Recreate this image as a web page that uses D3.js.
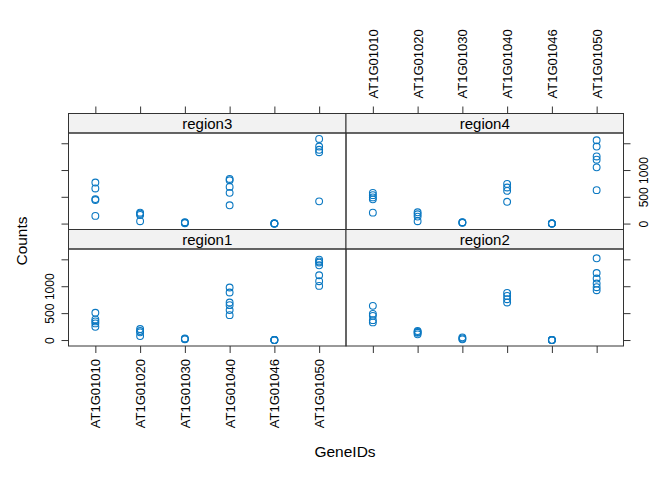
<!DOCTYPE html>
<html><head><meta charset="utf-8">
<script src="https://cdn.jsdelivr.net/npm/d3@7"></script>
<style>body{margin:0;background:#fff}svg{display:block;font-family:"Liberation Sans",Arial,sans-serif}</style>
</head><body>
<svg id="c" width="672" height="480"></svg>
<script>
const genes = ["AT1G01010","AT1G01020","AT1G01030","AT1G01040","AT1G01046","AT1G01050"];
const regionNames = ["region1","region2","region3","region4"];
const yTicks = [0,500,1000,1500];
const yTickLabels = ["0","500","1000",""];
const region1 = [[506,383,346,309,246],[204,167,143,74],[31,20,13],[976,883,698,648,556,463],[0,0,0,0],[1494,1460,1439,1389,1204,1093,1006]];
const region2 = [[635,487,450,370,328],[167,150,135,106],[50,30,13],[876,820,759,698],[0,0,0,0],[1519,1246,1143,1050,982,926]];
const region3 = [[767,656,457,439,143],[204,185,161,44],[26,15,7],[833,809,685,574,341],[0,0,0,0],[1581,1439,1378,1333,415]];
const region4 = [[574,531,489,452,204],[211,174,130,44],[26,20,15],[741,674,611,407],[0,0,0,0],[1556,1439,1254,1193,1050,624]];
const regionValues = {region1, region2, region3, region4};

const svg = d3.select("#c");
const X0 = 68.5, X1 = 346, X2 = 623.5;
const ptsColor = "#0a78c2";
const panels = [
  {name:"region3", x0:X0, x1:X1, st:113.5, pt:133, pb:229.5, row:"top", col:"left"},
  {name:"region4", x0:X1, x1:X2, st:113.5, pt:133, pb:229.5, row:"top", col:"right"},
  {name:"region1", x0:X0, x1:X1, st:229.5, pt:249, pb:346, row:"bottom", col:"left"},
  {name:"region2", x0:X1, x1:X2, st:229.5, pt:249, pb:346, row:"bottom", col:"right"}
];
const allVals = regionNames.flatMap(r => regionValues[r].flat());
const ymin = d3.min(allVals), ymax = d3.max(allVals), pad = (ymax - ymin) * 0.07;

panels.forEach(p => {
  const x = d3.scalePoint().domain(genes).range([p.x0, p.x1]).padding(0.6);
  const y = d3.scaleLinear().domain([ymin - pad, ymax + pad]).range([p.pb, p.pt]);
  svg.append("rect").attr("x", p.x0).attr("y", p.st).attr("width", p.x1 - p.x0).attr("height", p.pt - p.st)
    .attr("fill", "#f2f2f2").attr("stroke", "#333").attr("stroke-width", 1);
  svg.append("text").attr("x", (p.x0 + p.x1) / 2).attr("y", (p.st + p.pt) / 2 + 5.5)
    .attr("text-anchor", "middle").attr("font-size", 15).attr("fill", "#000").text(p.name);
  svg.append("rect").attr("x", p.x0).attr("y", p.pt).attr("width", p.x1 - p.x0).attr("height", p.pb - p.pt)
    .attr("fill", "none").attr("stroke", "#333").attr("stroke-width", 1);
  const data = regionValues[p.name].flatMap((vals, i) => vals.map(v => ({g: genes[i], v})));
  svg.append("g").selectAll("circle").data(data).join("circle")
    .attr("cx", d => x(d.g)).attr("cy", d => y(d.v)).attr("r", 3.4)
    .attr("fill", "none").attr("stroke", ptsColor).attr("stroke-width", 1.1);
  if (p.row === "bottom") {
    const ax = svg.append("g").attr("transform", `translate(0,${p.pb})`)
      .call(d3.axisBottom(x).tickSize(7).tickSizeOuter(0).tickFormat(p.col === "left" ? (d => d) : () => ""));
    ax.select(".domain").remove();
    ax.selectAll("line").attr("stroke", "#333");
    ax.selectAll("text").attr("font-size", 13).attr("fill", "#000")
      .attr("transform", "rotate(-90)").attr("text-anchor", "end")
      .attr("x", -13).attr("y", 0).attr("dy", "0.35em");
  }
  if (p.row === "top") {
    const ax = svg.append("g").attr("transform", `translate(0,${p.st})`)
      .call(d3.axisTop(x).tickSize(7).tickSizeOuter(0).tickFormat(p.col === "right" ? (d => d) : () => ""));
    ax.select(".domain").remove();
    ax.selectAll("line").attr("stroke", "#333");
    ax.selectAll("text").attr("font-size", 13).attr("fill", "#000")
      .attr("transform", "rotate(-90)").attr("text-anchor", "start")
      .attr("x", 15).attr("y", 0).attr("dy", "0.35em");
  }
  if (p.col === "left") {
    const ax = svg.append("g").attr("transform", `translate(${p.x0},0)`)
      .call(d3.axisLeft(y).tickValues(yTicks).tickSize(7).tickSizeOuter(0)
        .tickFormat(p.row === "bottom" ? ((d, i) => yTickLabels[i]) : () => ""));
    ax.select(".domain").remove();
    ax.selectAll("line").attr("stroke", "#333");
    ax.selectAll("text").attr("font-size", 12).attr("fill", "#000")
      .attr("transform", "rotate(-90)").attr("text-anchor", "middle")
      .attr("x", 0).attr("y", -19).attr("dy", "0.35em");
  }
  if (p.col === "right") {
    const ax = svg.append("g").attr("transform", `translate(${p.x1},0)`)
      .call(d3.axisRight(y).tickValues(yTicks).tickSize(7).tickSizeOuter(0)
        .tickFormat(p.row === "top" ? ((d, i) => yTickLabels[i]) : () => ""));
    ax.select(".domain").remove();
    ax.selectAll("line").attr("stroke", "#333");
    ax.selectAll("text").attr("font-size", 12).attr("fill", "#000")
      .attr("transform", "rotate(-90)").attr("text-anchor", "middle")
      .attr("x", 0).attr("y", 20).attr("dy", "0.35em");
  }
});
svg.append("text").attr("transform", "translate(27,241) rotate(-90)").attr("text-anchor", "middle")
  .attr("font-size", 15.5).attr("fill", "#000").text("Counts");
svg.append("text").attr("x", 345).attr("y", 457).attr("text-anchor", "middle")
  .attr("font-size", 15.5).attr("fill", "#000").text("GeneIDs");
</script>
</body></html>
